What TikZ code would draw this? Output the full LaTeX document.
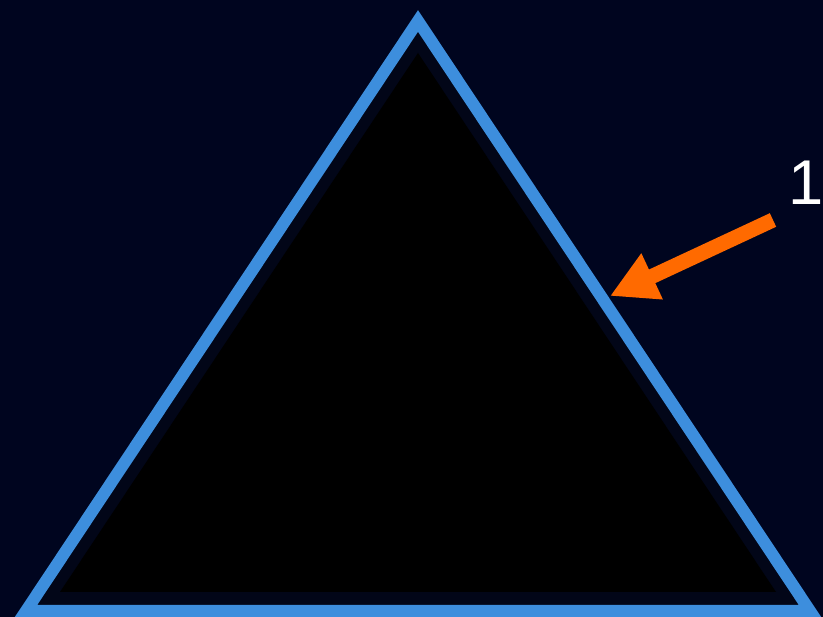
\documentclass[tikz,border=0pt]{standalone}
\usepackage{fontspec}
\setmainfont{Liberation Sans}
\usetikzlibrary{arrows.meta}

\definecolor{bgnavy}{HTML}{00051F}
\definecolor{gapnavy}{HTML}{020618}
\definecolor{edgeblue}{HTML}{3D8EDD}
\definecolor{pointer}{HTML}{FF6A00}

\begin{document}
\begin{tikzpicture}[
    x=0.02cm, y=-0.02cm,
    outline/.style={draw=edgeblue, line width=0.24cm, line join=miter, fill=gapnavy},
    core/.style={fill=black},
    pointarrow/.style={-{Triangle[length=0.93cm, width=0.95cm]}, line width=0.3cm, pointer},
    numlabel/.style={text=white, font=\fontsize{36}{40}\selectfont, inner sep=0pt}
]

% Background
\fill[bgnavy] (0,0) rectangle (823,617);
\useasboundingbox (0,0) rectangle (823,617);

% Triangle
\draw[outline] (418,21) -- (810,611) -- (26,611) -- cycle;
\fill[core] (418,53) -- (776,592) -- (60,592) -- cycle;

% Label and arrow
\node[numlabel] (one) at (806,183) {1};
\coordinate (tail) at (773,220);
\coordinate (tip) at (610,296);
\draw[pointarrow] (tail) -- (tip);

\end{tikzpicture}
\end{document}
